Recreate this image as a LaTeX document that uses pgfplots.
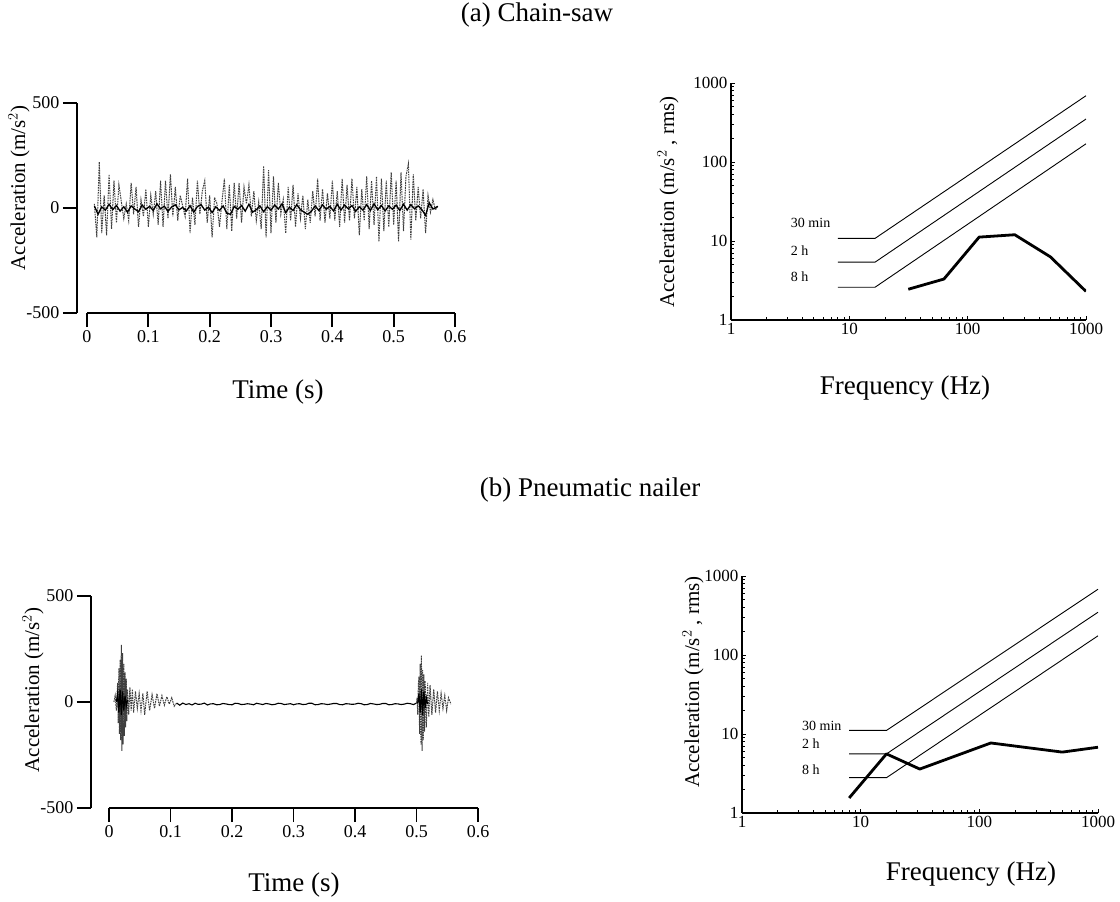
\documentclass[border=0pt]{standalone}
\usepackage{fontspec}
\setmainfont{Liberation Serif}
\usepackage{pgfplots}
\pgfplotsset{compat=1.18}
\newcommand\fs[1]{\fontsize{#1}{#1}\selectfont}

\pgfplotsset{
  sig/.style={scale only axis, axis x line=bottom, axis y line=left,
    axis line style={-, line width=2pt},
    xmax=0.6, ymin=-500, ymax=500,
    xtick={0,0.1,0.2,0.3,0.4,0.5,0.6}, xticklabels={0,0.1,0.2,0.3,0.4,0.5,0.6},
    ytick={-500,0,500}, yticklabels={-500,0,500},
    tick align=outside, major tick length=14pt,
    tick style={line width=1.8pt, black},
    tick label style={font=\fs{18}}},
  spec/.style={scale only axis,
    axis x line=bottom, axis y line=left,
    axis line style={-, line width=2pt},
    xmin=1, xmax=1000, ymin=1, ymax=1000,
    xtick={1,10,100,1000}, xticklabels={1,10,100,1000},
    ytick={1,10,100,1000}, yticklabels={1,10,100,1000},
    tick align=inside, major tick length=4pt, minor tick length=3pt,
    tick style={line width=0.8pt, black},
    tick label style={font=\fs{17}}},
  lim/.style={black, line width=0.9pt},
  dat/.style={black, line width=2.8pt, line join=round},
  spike/.style={black!75, line width=1pt, dash pattern=on 1.6pt off 0.9pt},
}

\begin{document}
\begin{tikzpicture}
\path[use as bounding box] (0pt,0pt) rectangle (1120pt,-902pt);

% (a) chain-saw, time history
\begin{axis}[sig, at={(77pt,-313pt)}, anchor=south west,
  width=378pt, height=210pt, xmin=-0.0163,
  x axis line style={shorten <=10pt}]
\addplot[spike] coordinates {
(0.012,20) (0.016,-140) (0.020,220) (0.024,-120) (0.028,60) (0.032,-130) (0.036,160) (0.040,-100)
(0.044,130) (0.048,-70) (0.052,110) (0.056,30) (0.060,-50) (0.064,20) (0.068,-60) (0.072,120)
(0.076,-30) (0.080,100) (0.084,-90) (0.088,40) (0.092,-40) (0.096,90) (0.100,-90) (0.104,60)
(0.108,-30) (0.112,80) (0.116,-80) (0.120,130) (0.124,-90) (0.128,130) (0.132,-50) (0.136,160)
(0.140,-40) (0.144,100) (0.148,-60) (0.152,60) (0.156,10) (0.160,-40) (0.164,140) (0.168,-120)
(0.172,50) (0.176,-80) (0.180,130) (0.184,-30) (0.188,80) (0.192,130) (0.196,-70) (0.200,60)
(0.204,-140) (0.208,50) (0.212,20) (0.216,-90) (0.220,30) (0.224,140) (0.228,-100) (0.232,110)
(0.236,-110) (0.240,120) (0.244,-50) (0.248,120) (0.252,-70) (0.256,100) (0.260,20) (0.264,110)
(0.268,-40) (0.272,80) (0.276,-60) (0.280,30) (0.284,-100) (0.288,200) (0.292,-140) (0.296,180)
(0.300,-120) (0.304,150) (0.308,-70) (0.312,120) (0.316,-30) (0.320,40) (0.324,-120) (0.328,100)
(0.332,-60) (0.336,110) (0.340,-90) (0.344,70) (0.348,-50) (0.352,60) (0.356,-100) (0.360,40)
(0.364,-70) (0.368,80) (0.372,-40) (0.376,140) (0.380,-60) (0.384,90) (0.388,-70) (0.392,70)
(0.396,-50) (0.400,130) (0.404,-60) (0.408,80) (0.412,-90) (0.416,140) (0.420,-70) (0.424,110)
(0.428,-60) (0.432,140) (0.436,-50) (0.440,100) (0.444,-130) (0.448,90) (0.452,-60) (0.456,150)
(0.460,-100) (0.464,130) (0.468,-80) (0.472,150) (0.476,-160) (0.480,140) (0.484,-110) (0.488,130)
(0.492,-90) (0.496,170) (0.500,-80) (0.504,130) (0.508,-160) (0.512,170) (0.516,-110) (0.520,150)
(0.524,210) (0.528,-150) (0.532,160) (0.536,-60) (0.540,100) (0.544,-50) (0.548,90) (0.552,-120)
(0.556,60) (0.560,-20) (0.564,40) (0.568,-10) (0.572,10)
};
\addplot[black, line width=1.3pt] coordinates {
(0.012,10) (0.018,-30) (0.024,5) (0.030,-10) (0.036,18) (0.042,-8) (0.048,12) (0.054,-15)
(0.060,6) (0.066,-20) (0.072,10) (0.078,-5) (0.084,-18) (0.090,14) (0.096,-6) (0.102,8)
(0.108,-12) (0.114,20) (0.120,-4) (0.126,9) (0.132,-16) (0.138,5) (0.144,15) (0.150,-9)
(0.156,3) (0.162,-14) (0.168,11) (0.174,-20) (0.180,7) (0.186,16) (0.192,-10) (0.198,4)
(0.204,-22) (0.210,6) (0.216,-12) (0.222,10) (0.228,-25) (0.234,-30) (0.240,8) (0.246,-6)
(0.252,12) (0.258,-15) (0.264,18) (0.270,-20) (0.276,-8) (0.282,10) (0.288,-18) (0.294,6)
(0.300,-10) (0.306,14) (0.312,-5) (0.318,20) (0.324,-22) (0.330,4) (0.336,-12) (0.342,16)
(0.348,-8) (0.354,-20) (0.360,-30) (0.366,-15) (0.372,10) (0.378,-12) (0.384,15) (0.390,-6)
(0.396,8) (0.402,-14) (0.408,18) (0.414,-10) (0.420,14) (0.426,-4) (0.432,12) (0.438,-16)
(0.444,6) (0.450,-10) (0.456,16) (0.462,-12) (0.468,20) (0.474,-8) (0.480,12) (0.486,-14)
(0.492,10) (0.498,-6) (0.504,14) (0.510,-12) (0.516,18) (0.522,-10) (0.528,16) (0.534,-4)
(0.540,10) (0.546,-8) (0.552,-35) (0.558,25) (0.564,-5) (0.572,8)
};
\end{axis}

% (a) chain-saw, spectrum
\begin{loglogaxis}[spec, at={(731pt,-320pt)}, anchor=south west,
  width=355pt, height=237pt]
\addplot[lim] coordinates {(8,10.8) (16.5,10.8) (1000,690)};
\addplot[lim] coordinates {(8,5.4) (16.5,5.4) (1000,350)};
\addplot[lim] coordinates {(8,2.6) (16.5,2.6) (1000,170)};
\addplot[dat] coordinates {(31.5,2.45) (63,3.3) (125,11.2) (250,12) (500,6.3) (1000,2.3)};
\node[anchor=west, font=\fs{14}] at (axis cs:3,16.8) {30 min};
\node[anchor=west, font=\fs{14}] at (axis cs:3,7.6) {2 h};
\node[anchor=west, font=\fs{14}] at (axis cs:3,3.5) {8 h};
\end{loglogaxis}

% (b) pneumatic nailer, time history
\begin{axis}[sig, at={(91pt,-808pt)}, anchor=south west,
  width=387pt, height=212pt, xmin=-0.0293,
  x axis line style={shorten <=18pt}]
\addplot[spike] coordinates {
(0.008,0) (0.010,30) (0.012,-40) (0.014,90) (0.015,-100) (0.016,160) (0.017,-150) (0.018,200)
(0.019,-180) (0.020,270) (0.021,-230) (0.022,230) (0.023,-200) (0.024,180) (0.025,-160) (0.026,140)
(0.027,-120) (0.028,110) (0.029,-90) (0.030,60) (0.032,-60) (0.034,70) (0.036,-40) (0.038,60)
(0.040,-50) (0.043,50) (0.046,-30) (0.049,40) (0.052,-40) (0.055,40) (0.058,-60) (0.062,50)
(0.066,-40) (0.070,35) (0.074,-30) (0.078,40) (0.082,-20) (0.086,30) (0.090,-15) (0.094,25)
(0.098,-10) (0.102,20) (0.106,-20) (0.110,-5)
};
\addplot[black, line width=1.1pt] coordinates {
(0.110,-5) (0.115,-15) (0.120,-5) (0.125,-12) (0.130,-8)
(0.135,-14) (0.140,-6) (0.145,-11) (0.150,-10) (0.155,-5) (0.160,-14) (0.165,-9) (0.170,-8)
(0.175,-13) (0.180,-12) (0.185,-7) (0.190,-9) (0.195,-12) (0.200,-13) (0.205,-6) (0.210,-7)
(0.215,-12) (0.220,-11) (0.225,-8) (0.230,-10) (0.235,-13) (0.240,-6) (0.245,-9) (0.250,-12)
(0.255,-7) (0.260,-9) (0.265,-13) (0.270,-11) (0.275,-6) (0.280,-7) (0.285,-12) (0.290,-10)
(0.295,-8) (0.300,-13) (0.305,-9) (0.310,-8) (0.315,-12) (0.320,-11) (0.325,-6) (0.330,-6)
(0.335,-13) (0.340,-12) (0.345,-8) (0.350,-9) (0.355,-12) (0.360,-10) (0.365,-7) (0.370,-7)
(0.375,-12) (0.380,-13) (0.385,-8) (0.390,-9) (0.395,-11) (0.400,-10) (0.405,-6) (0.410,-8)
(0.415,-13) (0.420,-12) (0.425,-7) (0.430,-9) (0.435,-12) (0.440,-11) (0.445,-7) (0.450,-7)
(0.455,-13) (0.460,-12) (0.465,-8) (0.470,-9) (0.475,-12) (0.480,-10) (0.485,-6) (0.490,-8)
(0.495,-12) (0.500,-5)
};
\addplot[spike] coordinates {
(0.500,-5) (0.501,20) (0.502,-60) (0.503,80) (0.504,120) (0.505,-150) (0.506,180) (0.507,-200) (0.508,220)
(0.509,-230) (0.510,150) (0.511,-180) (0.512,130) (0.513,-140) (0.514,100) (0.516,-120) (0.518,90)
(0.520,-70) (0.522,80) (0.525,-60) (0.528,60) (0.531,-50) (0.534,50) (0.537,-40) (0.540,40)
(0.543,-30) (0.546,30) (0.549,-40) (0.552,20) (0.556,-10)
};
\addplot[black, line width=1.2pt] coordinates {
(0.012,0) (0.014,40) (0.016,-50) (0.018,60) (0.020,-60) (0.022,50) (0.024,-40) (0.026,30) (0.028,-20) (0.030,10)
};
\addplot[black, line width=1.2pt] coordinates {
(0.502,-5) (0.504,40) (0.506,-50) (0.508,60) (0.510,-60) (0.512,50) (0.514,-30) (0.516,20) (0.518,-10)
};
\end{axis}

% (b) pneumatic nailer, spectrum
\begin{loglogaxis}[spec, at={(742pt,-813pt)}, anchor=south west,
  width=356pt, height=237pt]
\addplot[lim] coordinates {(8,11.1) (16.5,11.1) (1000,680)};
\addplot[lim] coordinates {(8,5.6) (16.5,5.6) (1000,348)};
\addplot[lim] coordinates {(8,2.8) (16.5,2.8) (1000,175)};
\addplot[dat] coordinates {(8,1.55) (16.5,5.6) (31.5,3.6) (125,7.7) (500,5.9) (1000,6.8)};
\node[anchor=west, font=\fs{14}] at (axis cs:3,12.8) {30 min};
\node[anchor=west, font=\fs{14}] at (axis cs:3,7.5) {2 h};
\node[anchor=west, font=\fs{14}] at (axis cs:3,3.5) {8 h};
\end{loglogaxis}

% titles and axis labels
\node[font=\fs{27}] at (537pt,-15pt) {(a) Chain-saw};
\node[font=\fs{27}] at (590pt,-490pt) {(b) Pneumatic nailer};
\node[font=\fs{27}] at (278pt,-392pt) {Time (s)};
\node[font=\fs{27}] at (905pt,-388pt) {Frequency (Hz)};
\node[font=\fs{27}] at (294pt,-885pt) {Time (s)};
\node[font=\fs{27}] at (971pt,-874pt) {Frequency (Hz)};
\node[rotate=90, font=\fs{21}] at (19pt,-188pt) {Acceleration (m/s$^2$)};
\node[rotate=90, font=\fs{21}] at (33pt,-690pt) {Acceleration (m/s$^2$)};
\node[rotate=90, font=\fs{21}] at (668pt,-202pt) {Acceleration (m/s$^2$ , rms)};
\node[rotate=90, font=\fs{21}] at (693pt,-682pt) {Acceleration (m/s$^2$ , rms)};
\end{tikzpicture}
\end{document}
